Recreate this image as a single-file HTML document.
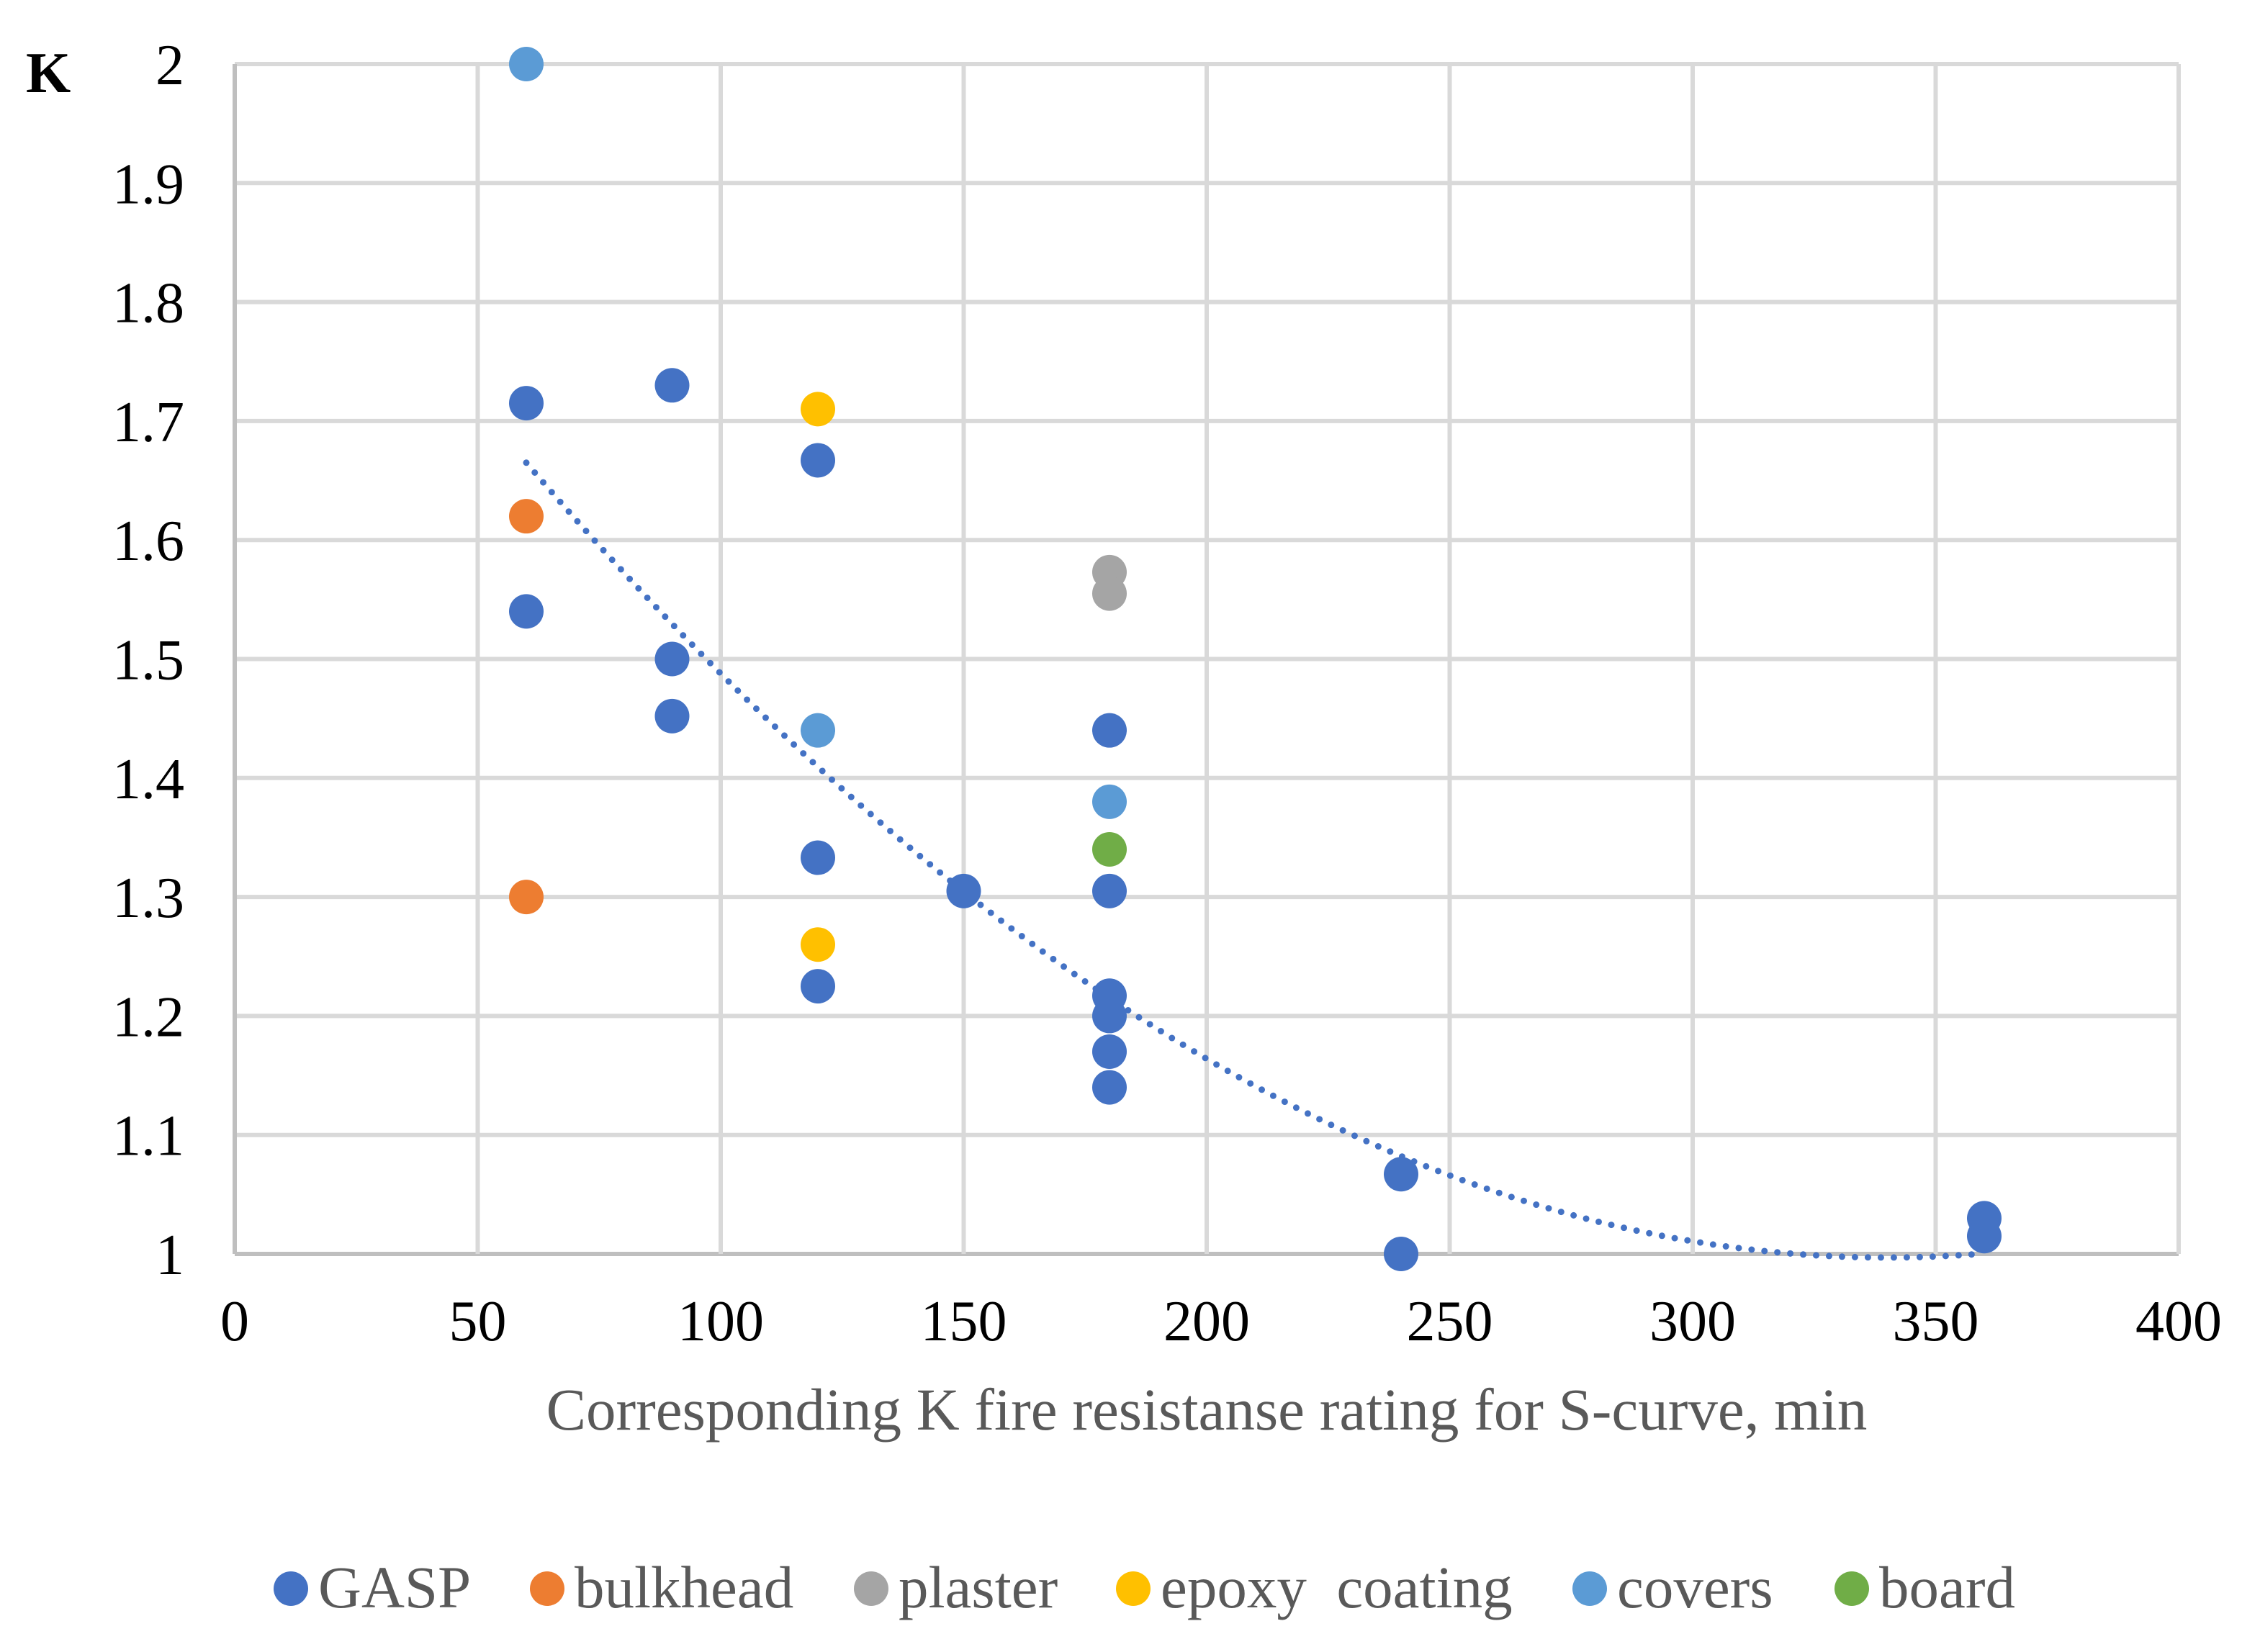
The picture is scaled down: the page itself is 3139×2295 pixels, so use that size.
<!DOCTYPE html>
<html><head><meta charset="utf-8"><style>
html,body{margin:0;padding:0;background:#fff;}
svg{display:block;font-family:"Liberation Serif",serif;}
</style></head><body>
<svg id="chart" width="3139" height="2295" viewBox="0 0 3139 2295" xmlns="http://www.w3.org/2000/svg">
<rect width="3139" height="2295" fill="#fff"/>
<g id="grid"></g>
<g id="trend"></g>
<g id="points"></g>
<g id="ticks"></g>
<text x="36" y="128" font-size="80" font-weight="bold" fill="#000">K</text>
<text x="1676" y="1986" font-size="83" fill="#595959" text-anchor="middle">Corresponding K fire resistanse rating for S-curve, min</text>
<g id="legend"></g>
</svg>
<script>
const xTicks=[0,50,100,150,200,250,300,350,400];
const yTicks=[1,1.1,1.2,1.3,1.4,1.5,1.6,1.7,1.8,1.9,2];
const yTickLabels=["1","1.1","1.2","1.3","1.4","1.5","1.6","1.7","1.8","1.9","2"];
const seriesNames=["GASP","bulkhead","plaster","epoxy  coating","covers","board"];
const seriesColors=["#4472C4","#ED7D31","#A5A5A5","#FFC000","#5B9BD5","#70AD47"];
const gaspX=[60,60,90,90,90,120,120,120,150,180,180,180,180,180,180,240,240,360,360];
const gaspY=[1.715,1.54,1.73,1.5,1.452,1.667,1.333,1.225,1.305,1.44,1.305,1.217,1.2,1.17,1.14,1.067,1.0,1.03,1.015];
const bulkheadX=[60,60];
const bulkheadY=[1.62,1.3];
const plasterX=[180,180];
const plasterY=[1.573,1.555];
const epoxyX=[120,120];
const epoxyY=[1.71,1.26];
const coversX=[60,120,180];
const coversY=[2.0,1.44,1.38];
const boardX=[180];
const boardY=[1.34];
const trendCoef=[8.52e-6,340,0.997]; // a*(x-h)^2+c
const trendRange=[60,360];

const NS="http://www.w3.org/2000/svg";
const L=326,R=3026,T=89,B=1742;
const sx=v=>L+(v-0)/(400-0)*(R-L);
const sy=v=>B-(v-1)/(2-1)*(B-T);
function mk(tag,attrs,parent){const e=document.createElementNS(NS,tag);for(const k in attrs)e.setAttribute(k,attrs[k]);parent.appendChild(e);return e;}
const grid=document.getElementById('grid'),ticks=document.getElementById('ticks');
yTicks.forEach((v,i)=>{
  const ln=mk('line',{x1:L,x2:R,y1:sy(v),y2:sy(v),stroke:i===0?'#BFBFBF':'#D9D9D9','stroke-width':6},grid);
  
  
  const t=mk('text',{x:256,y:sy(v)+28,'font-size':80,'text-anchor':'end',fill:'#000'},ticks);
  t.textContent=yTickLabels[i];
  
  
});
xTicks.forEach((v,i)=>{
  const ln=mk('line',{x1:sx(v),x2:sx(v),y1:T,y2:B,stroke:i===0?'#BFBFBF':'#D9D9D9','stroke-width':6},grid);
  
  
  const t=mk('text',{x:sx(v),y:1862,'font-size':80,'text-anchor':'middle',fill:'#000'},ticks);
  t.textContent=String(v);
  
  
});
const tr=document.getElementById('trend');
let d='';
for(let x=trendRange[0];x<=trendRange[1];x+=2){const y=trendCoef[0]*Math.pow(x-trendCoef[1],2)+trendCoef[2];d+=(d?'L':'M')+sx(x).toFixed(1)+','+sy(y).toFixed(1);}
const tp=mk('path',{d:d,fill:'none',stroke:'#4472C4','stroke-width':9,'stroke-dasharray':'0 18','stroke-linecap':'round'},tr);


const pts=document.getElementById('points');
const all=[[gaspX,gaspY],[bulkheadX,bulkheadY],[plasterX,plasterY],[epoxyX,epoxyY],[coversX,coversY],[boardX,boardY]];
all.forEach((s,si)=>{
  s[0].forEach((x,i)=>{
    const c=mk('circle',{cx:sx(x),cy:sy(s[1][i]),r:24,fill:seriesColors[si]},pts);
    
    
  });
});
const lg=document.getElementById('legend');
const legX=[404,760,1210,1574,2208,2572];
seriesNames.forEach((n,i)=>{
  const c=mk('circle',{cx:legX[i],cy:2207,r:24,fill:seriesColors[i]},lg);
  
  
  const t=mk('text',{x:legX[i]+38,y:2233,'font-size':83,fill:'#595959'},lg);
  t.setAttribute('style','white-space:pre');
  t.textContent=n;
  
  
});
</script>
</body></html>
